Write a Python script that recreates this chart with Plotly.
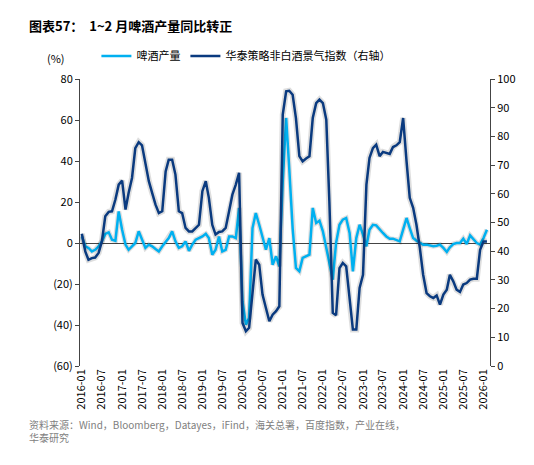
import pandas as pd
import plotly.graph_objects as go

# monthly series, 2016-01 onward
months = pd.date_range('2016-01-01', periods=122, freq='MS')

beer_yoy = [3.2, -1.6, -2.4, -4.1, -3.3, -1.6, 0.8, 4.4, 5.2, 1.6,
            1.1, 15.4, 6.5, -0.8, -3.3, -1.6, 0, 5.7, 1.6, -2.4,
            -0.8, -1.6, -2.9, -4.1, -1.6, 0.8, 2.4, 5.7, 0.8, -2.4,
            -1.6, 0.8, -3.8, -0.8, 1.6, 2.4, 3.2, 4.5, 2.4, -5.7,
            -3.3, 3.2, -4.1, -3.3, 3.2, 3.2, 2.4, 17.1, -28.5, -39.8,
            -36.6, 7.3, 14.6, 8.9, 2.4, -3.3, 2.4, -10.6, -6.5, -11.4,
            30, 61, 36.6, 7.3, -12.2, -13.8, -7.3, -6.5, -5.7, 17.1,
            9.8, 10.9, 5.7, -2.4, -10.6, -17.9, 0, 8.9, 11.4, 12.2,
            4.9, -13.8, 2.4, 8.9, 4.1, -1.6, 6.5, 8.9, 8.6, 6.5,
            4.9, 3.2, 2.1, 2.1, 1.6, 0.8, 6.5, 12.2, 7.3, 2.4,
            1.1, 0, -0.8, -0.8, -1.3, -1.6, -1.3, -0.8, -2.4, -4.4,
            -2.1, -0.5, 0, 0, 2.1, -0.5, 3.7, 1.6, 0, -0.8,
            2.4, 6.5]

liquor_index = [46.1, 39.9, 37, 37.6, 37.8, 39.4, 43.4, 52.2, 53.7, 53.9,
                58, 63.2, 64.6, 54.5, 60.3, 65.5, 75.9, 78, 76.9, 70.2,
                64.4, 60.3, 56.2, 53.3, 53.9, 67.8, 71.9, 71.9, 66.7, 53.9,
                53.3, 48.1, 46.9, 46.9, 48.1, 49.2, 60.9, 64.4, 58.6, 49.2,
                45.8, 46.7, 46.9, 48.1, 53.9, 59.7, 63.2, 67.3, 15, 12.1,
                13.3, 24.9, 37.1, 35.3, 24.9, 20.2, 15.6, 17.9, 19.1, 20.8,
                87.6, 95.7, 95.9, 94.5, 86.4, 73.1, 71.3, 72.3, 73.1, 86.4,
                91.6, 92.8, 91.6, 85.8, 57.4, 18.5, 17.7, 34.1, 35.9, 34.7,
                22.5, 12.7, 12.7, 27.2, 31.8, 63.2, 72.5, 75.9, 77.1, 73.1,
                74.6, 74.2, 73.9, 76.3, 76.9, 78, 86.4, 71.3, 58.6, 55.1,
                49.2, 41.1, 31.8, 25.4, 24.3, 23.7, 24.6, 21.4, 24.9, 26.6,
                31.8, 29.5, 26.6, 25.8, 28.4, 28.9, 30.1, 30.4, 30.4, 40.5,
                43.4, 43.4]

left_ticks = [-60, -40, -20, 0, 20, 40, 60, 80]
left_labels = ['(60)', '(40)', '(20)', '0', '20', '40', '60', '80']

LIGHT = '#00B0F0'
DARK = '#0A3A7F'
SHADOW = 'rgba(0,0,0,0.13)'

fig = go.Figure()

# soft shadows under both lines
fig.add_trace(go.Scatter(x=months, y=liquor_index, yaxis='y2', mode='lines',
                         line=dict(color=SHADOW, width=6), showlegend=False, hoverinfo='skip'))
fig.add_trace(go.Scatter(x=months, y=beer_yoy, mode='lines',
                         line=dict(color=SHADOW, width=5), showlegend=False, hoverinfo='skip'))

fig.add_trace(go.Scatter(x=months, y=beer_yoy, mode='lines', name='啤酒产量',
                         line=dict(color=LIGHT, width=2.5)))
fig.add_trace(go.Scatter(x=months, y=liquor_index, yaxis='y2', mode='lines',
                         name='华泰策略非白酒景气指数（右轴）',
                         line=dict(color=DARK, width=2.5)))

fig.update_layout(
    width=534, height=465,
    margin=dict(l=72, r=52, t=71, b=107, autoexpand=False),
    plot_bgcolor='white', paper_bgcolor='white',
    font=dict(family='Noto Sans CJK SC, Arial', size=11, color='#000'),
    showlegend=True,
    legend=dict(orientation='h', x=0.04, y=1.08, xanchor='left', yanchor='middle',
                font=dict(size=11), bgcolor='rgba(0,0,0,0)'),
    xaxis=dict(type='date', range=['2015-12-15', '2026-03-01'], automargin=False,
               tickformat='%Y-%m', dtick='M6', tick0='2016-01-01',
               tickangle=-90, showgrid=False, showline=False, ticks='',
               tickfont=dict(size=11)),
    yaxis=dict(range=[-60, 80], tickvals=left_ticks, ticktext=left_labels,
               automargin=False,
               showgrid=False, showline=True, linecolor='#444', ticks='outside',
               ticklen=4, tickcolor='#444', zeroline=True, zerolinecolor='#444',
               zerolinewidth=1),
    yaxis2=dict(range=[0, 100], dtick=10, overlaying='y', side='right',
                automargin=False,
                showgrid=False, showline=True, linecolor='#444', ticks='outside',
                ticklen=4, tickcolor='#444', zeroline=False),
    annotations=[
        dict(text='<b>图表57：  1~2 月啤酒产量同比转正</b>', xref='paper', yref='paper',
             x=-0.13, y=1.225, xanchor='left', yanchor='top', showarrow=False,
             font=dict(size=13)),
        dict(text='(%)', xref='paper', yref='paper', x=-0.085, y=1.04,
             xanchor='left', yanchor='bottom', showarrow=False, font=dict(size=11)),
        dict(text='资料来源：Wind，Bloomberg，Datayes，iFind，海关总署，百度指数，产业在线，<br>华泰研究',
             xref='paper', yref='paper', x=-0.13, y=-0.17, xanchor='left',
             yanchor='top', align='left', showarrow=False,
             font=dict(size=10, color='#808080')),
    ],
)

fig.write_html('out.html')
